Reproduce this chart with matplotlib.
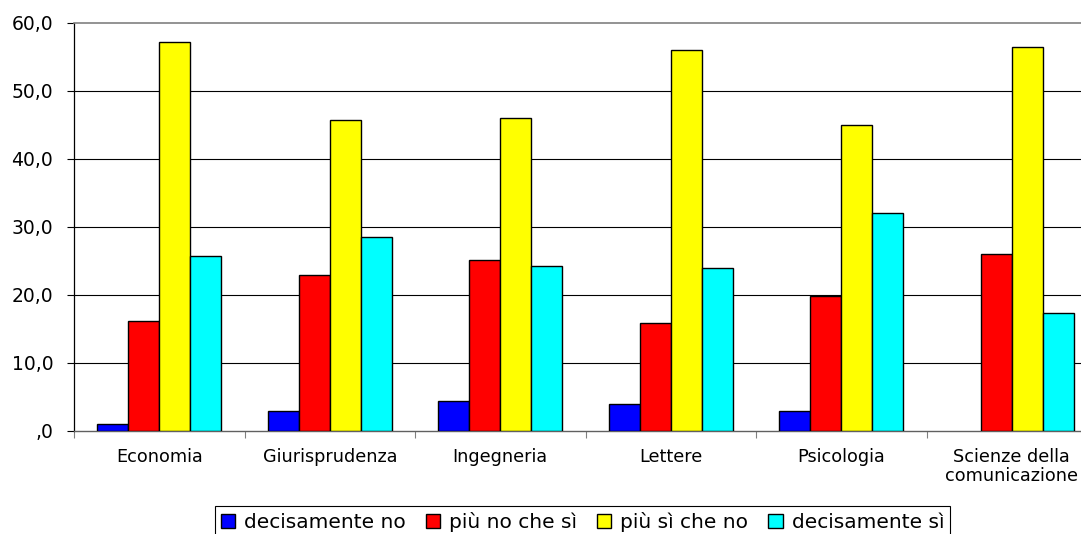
import matplotlib
matplotlib.use("Agg")
import matplotlib.pyplot as plt
import numpy as np
from matplotlib.ticker import FixedLocator, NullFormatter

categories = ["Economia", "Giurisprudenza", "Ingegneria", "Lettere", "Psicologia",
              "Scienze della\ncomunicazione"]
series_names = ["decisamente no", "più no che sì", "più sì che no", "decisamente sì"]
decisamente_no = [1.0, 2.9, 4.4, 3.9, 2.9, 0.0]
piu_no_che_si = [16.1, 22.9, 25.2, 15.9, 19.9, 26.0]
piu_si_che_no = [57.1, 45.7, 46.0, 56.0, 44.9, 56.5]
decisamente_si = [25.7, 28.5, 24.3, 23.9, 32.1, 17.4]
ytick_values = [0, 10, 20, 30, 40, 50, 60]
ytick_labels = [",0", "10,0", "20,0", "30,0", "40,0", "50,0", "60,0"]

series = [decisamente_no, piu_no_che_si, piu_si_che_no, decisamente_si]
colors = ["#0000FF", "#FF0000", "#FFFF00", "#00FFFF"]

W, H = 1081, 534
fig = plt.figure(figsize=(W / 100, H / 100), dpi=100)
left, right, top, bottom = 74, 1097, 22.7, 431
ax = fig.add_axes([left / W, 1 - bottom / H, (right - left) / W, (bottom - top) / H])

x = np.arange(len(categories))
w = 0.182
for k, (vals, col, name) in enumerate(zip(series, colors, series_names)):
    bars = ax.bar(x + (k - 1.5) * w, vals, width=w, color=col, edgecolor="black",
                  linewidth=1.0, label=name, zorder=3)
    for b, v in zip(bars, vals):
        if v == 0:
            b.set_visible(False)

ax.set_xlim(-0.5, len(categories) - 0.5)
ax.set_ylim(0, 60)
ax.set_yticks(ytick_values)
ax.set_yticklabels(ytick_labels, fontsize=13.5)
ax.tick_params(axis="y", direction="out", length=5, width=0.8, pad=10, colors="black")

ax.set_xticks(x)
ax.set_xticklabels(categories, fontsize=12.7, linespacing=1.1)
ax.tick_params(axis="x", which="major", length=0, pad=12)
ax.xaxis.set_minor_locator(FixedLocator(np.arange(len(categories) + 1) - 0.5))
ax.xaxis.set_minor_formatter(NullFormatter())
ax.tick_params(axis="x", which="minor", direction="out", length=5, width=0.8, color="#808080")

for v in ytick_values[1:-1]:
    ax.axhline(v, color="black", linewidth=0.8, zorder=1)

ax.spines["top"].set_color("#808080")
ax.spines["top"].set_linewidth(1.2)
ax.spines["right"].set_visible(False)
ax.spines["left"].set_color("black")
ax.spines["left"].set_linewidth(0.9)
ax.spines["bottom"].set_color("#606060")
ax.spines["bottom"].set_linewidth(1.0)

leg = fig.legend(loc="upper center", bbox_to_anchor=(582.5 / W, 1 - 506 / H),
                 ncol=4, fontsize=14.5, frameon=True, fancybox=False, framealpha=1,
                 edgecolor="black", handlelength=0.7, handleheight=0.7,
                 handletextpad=0.45, columnspacing=1.0, borderpad=0.3,
                 borderaxespad=0)
leg.get_frame().set_linewidth(0.8)

fig.savefig("out.png", dpi=100)
